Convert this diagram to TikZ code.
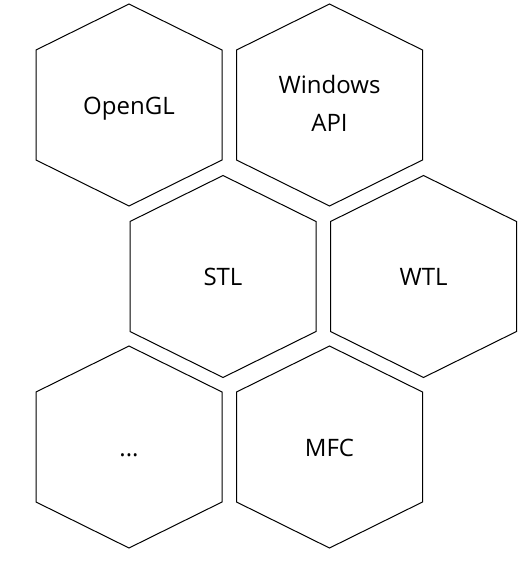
\documentclass[tikz,border=0pt]{standalone}
\usepackage{fontspec}
\setmainfont{Open Sans}
\usepackage{tikz}

\tikzset{
  hexline/.style={draw=black, line width=1pt, line join=miter},
  hexcell/.style={font=\fontsize{24}{38}\selectfont, align=center, inner sep=0pt}
}

\begin{document}
\begin{tikzpicture}[x=1pt,y=-1pt]
		\useasboundingbox (0,0) rectangle (526,562);

		% the six cells
		\foreach \cx/\cy in {129/105, 329.5/105, 223/276.5, 423.5/276.5, 129/447, 329.5/447}
			\draw [hexline] (\cx,\cy-101) -- ++(93,46) -- ++(0,110) -- ++(-93,46)
				-- ++(-93,-46) -- ++(0,-110) -- cycle;

		\node [hexcell, anchor=base] (opengl) at (129, 114) {OpenGL};
		\node [hexcell] (winapi) at (329.5, 103.5) {Windows\\API};

		\node [hexcell, anchor=base] (stl) at (223, 285.5) {STL};
		\node [hexcell, anchor=base] (wtl) at (423.5, 285.5) {WTL};

		\node [hexcell, anchor=base] (more) at (129, 456) {...};
		\node [hexcell, anchor=base] (mfc) at (329.5, 456) {MFC};

	\end{tikzpicture}
\end{document}
